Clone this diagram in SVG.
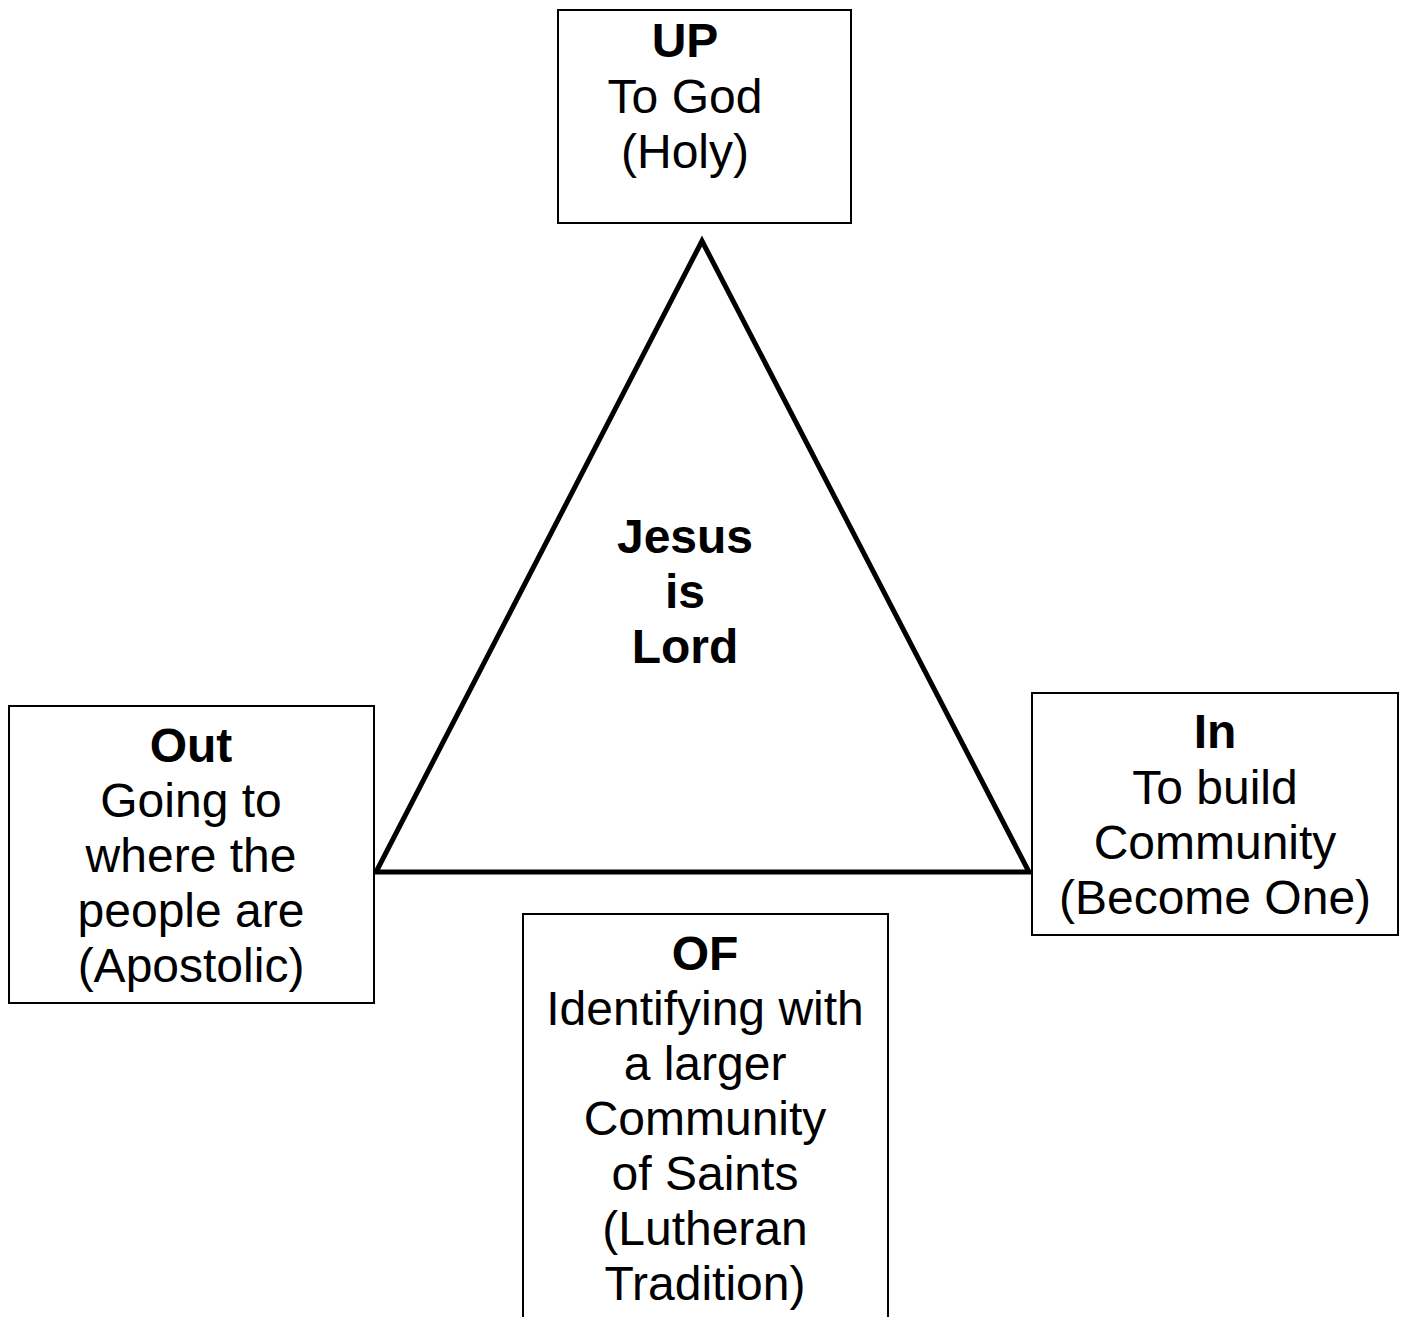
<svg xmlns="http://www.w3.org/2000/svg" width="1406" height="1317" viewBox="0 0 1406 1317">
<style>
.box{fill:#fff;stroke:#000;stroke-width:2}
.t{font-family:"Liberation Sans",Arial,Helvetica,sans-serif;font-size:48px;fill:#000;text-anchor:middle}
.b{font-weight:bold}
.tri{fill:none;stroke:#000;stroke-width:5;stroke-linejoin:miter}
</style>
<rect width="1406" height="1317" fill="#fff"/>
<g id="connectors">
<polygon class="tri" points="702,241 376,872 1029,872"/>
</g>
<g id="center">
<text class="t b" x="685" y="553">Jesus</text>
<text class="t b" x="685" y="608">is</text>
<text class="t b" x="685" y="663">Lord</text>
</g>
<g id="up">
<rect class="box" x="558" y="10" width="293" height="213"/>
<text class="t b" x="685" y="57">UP</text>
<text class="t" x="685" y="113">To God</text>
<text class="t" x="685" y="168">(Holy)</text>
</g>
<g id="out">
<rect class="box" x="9" y="706" width="365" height="297"/>
<text class="t b" x="191" y="762">Out</text>
<text class="t" x="191" y="817">Going to</text>
<text class="t" x="191" y="872">where the</text>
<text class="t" x="191" y="927">people are</text>
<text class="t" x="191" y="982">(Apostolic)</text>
</g>
<g id="in">
<rect class="box" x="1032" y="693" width="366" height="242"/>
<text class="t b" x="1215" y="748">In</text>
<text class="t" x="1215" y="804">To build</text>
<text class="t" x="1215" y="859">Community</text>
<text class="t" x="1215" y="914">(Become One)</text>
</g>
<g id="of">
<rect class="box" x="523" y="914" width="365" height="450"/>
<text class="t b" x="705" y="970">OF</text>
<text class="t" x="705" y="1025">Identifying with</text>
<text class="t" x="705" y="1080">a larger</text>
<text class="t" x="705" y="1135">Community</text>
<text class="t" x="705" y="1190">of Saints</text>
<text class="t" x="705" y="1245">(Lutheran</text>
<text class="t" x="705" y="1300">Tradition)</text>
</g>
</svg>
